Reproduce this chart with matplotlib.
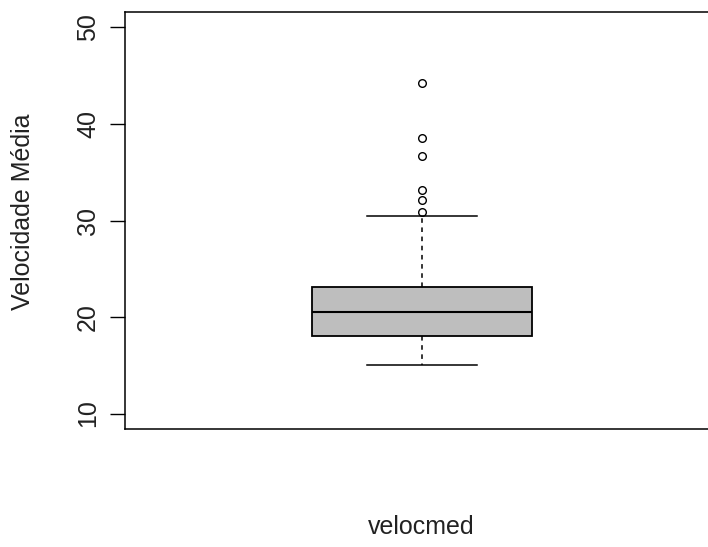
import numpy as np
import matplotlib.pyplot as plt

# summary of velocmed
stats_label = "velocmed"
q1, med, q3 = 18.05, 20.5, 23.1
whisker_lo, whisker_hi = 15.0, 30.45
outliers = [30.9, 32.1, 33.2, 36.7, 38.5, 44.2]
yticks = [10, 20, 30, 40, 50]

plt.rcParams['font.family'] = ['Liberation Sans', 'DejaVu Sans']

fig = plt.figure(figsize=(7.08, 5.47), dpi=100)
# axes run past the right edge, as in the cropped original
ax = fig.add_axes([125/708, 1 - 429/547, 593.4/708, 417/547])

bstats = [dict(med=med, q1=q1, q3=q3, whislo=whisker_lo, whishi=whisker_hi,
               fliers=outliers, label=stats_label)]
ax.bxp(bstats, positions=[1], widths=0.4, patch_artist=True, showcaps=True,
       boxprops=dict(facecolor='#bebebe', edgecolor='black', linewidth=1.3),
       medianprops=dict(color='black', linewidth=1.5),
       whiskerprops=dict(color='black', linestyle=(0, (3, 3)), linewidth=1.1),
       capprops=dict(color='black', linewidth=1.1),
       capwidths=0.2,
       flierprops=dict(marker='o', markersize=5.5, markerfacecolor='none',
                       markeredgecolor='black', markeredgewidth=1.0))

ax.set_xlim(0.46, 1.54)
ax.set_ylim(8.4, 51.6)
ax.set_yticks(yticks)
ax.set_yticklabels([str(t) for t in yticks], rotation=90, va='center')
ax.set_xticks([])
ax.tick_params(axis='y', length=11, width=1, pad=7, labelsize=18, labelcolor='#222222')
for s in ax.spines.values():
    s.set_linewidth(1.1)

ax.set_ylabel("Velocidade Média", fontsize=18, color='#222222')
ax.yaxis.set_label_coords(-0.152, 0.52)
fig.text(421.7/708, 1 - 527/547, stats_label, fontsize=18, color='#222222',
         ha='center', va='center')

fig.savefig("out.png", dpi=100)
